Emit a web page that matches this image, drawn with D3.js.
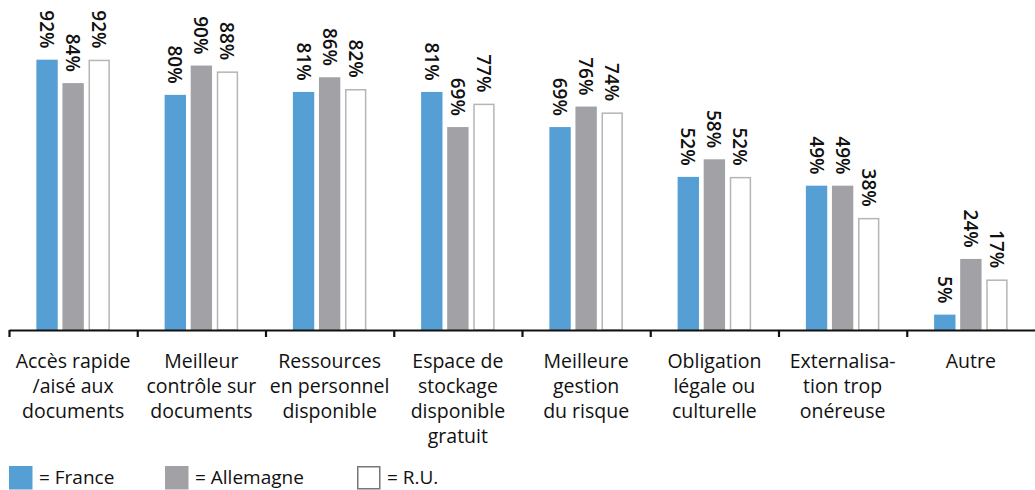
<!DOCTYPE html>
<html>
<head>
<meta charset="utf-8">
<script src="https://cdn.jsdelivr.net/npm/d3@7"></script>
<style>
  body { margin: 0; background: #fff; }
  text { font-family: "Open Sans", "Noto Sans", sans-serif; fill: #111; }
</style>
</head>
<body>
<svg id="chart" width="1035" height="490"></svg>
<script>
// categories, one array of lines per label
var categories = [
  ['Accès rapide', '/aisé aux', 'documents'],
  ['Meilleur', 'contrôle sur', 'documents'],
  ['Ressources', 'en personnel', 'disponible'],
  ['Espace de', 'stockage', 'disponible', 'gratuit'],
  ['Meilleure', 'gestion', 'du risque'],
  ['Obligation', 'légale ou', 'culturelle'],
  ['Externalisa-', 'tion trop', 'onéreuse'],
  ['Autre']
];
var seriesNames = ['France', 'Allemagne', 'R.U.'];
var france    = [92, 80, 81, 81, 69, 52, 49, 5];
var allemagne = [84, 90, 86, 69, 76, 58, 49, 24];
var ru        = [92, 88, 82, 77, 74, 52, 38, 17];

var fills   = ['#559fd5', '#a1a1a6', '#ffffff'];
var strokes = ['#559fd5', '#a1a1a6', '#b5b5b5'];

var svg = d3.select('#chart');
var baseY = 330;

var x = d3.scaleBand().domain(d3.range(categories.length)).range([9, 1035]);
var xs = d3.scaleBand().domain([0, 1, 2]).range([0, 73]).paddingInner(0.2);
var y = d3.scaleLinear().domain([0, 100]).range([baseY, 37]);

var allSeries = [france, allemagne, ru];

var groups = svg.selectAll('g.grp')
  .data(categories.map(function (c, i) { return i; }))
  .enter().append('g')
  .attr('class', 'grp')
  .attr('transform', function (i) {
    return 'translate(' + (x(i) + x.bandwidth() / 2 - 36.5) + ',0)';
  });

groups.selectAll('rect')
  .data(function (i) { return allSeries.map(function (s, k) { return {k: k, v: s[i]}; }); })
  .enter().append('rect')
  .attr('x', function (d) { return xs(d.k) + 0.5; })
  .attr('width', xs.bandwidth() - 1)
  .attr('y', function (d) { return y(d.v); })
  .attr('height', function (d) { return baseY - y(d.v); })
  .attr('fill', function (d) { return fills[d.k]; })
  .attr('stroke', function (d) { return strokes[d.k]; })
  .attr('stroke-width', 1.5);

// rotated value labels
groups.selectAll('text.val')
  .data(function (i) { return allSeries.map(function (s, k) { return {k: k, v: s[i]}; }); })
  .enter().append('text')
  .attr('class', 'val')
  .attr('transform', function (d) {
    return 'translate(' + (xs(d.k) + xs.bandwidth() / 2) + ',' + (y(d.v) - 12) + ') rotate(90)';
  })
  .attr('text-anchor', 'end')
  .attr('dominant-baseline', 'central')
  .style('font-size', '19px')
  .style('font-weight', 600)
  .text(function (d) { return d.v + '%'; });

// axis
var axis = d3.axisBottom(x).tickSize(0).tickFormat('');
var gx = svg.append('g').attr('transform', 'translate(0,' + baseY + ')').call(axis);
gx.select('.domain').attr('stroke', '#111').attr('stroke-width', 2.2);
gx.selectAll('.tickmark')
  .data(d3.range(categories.length))
  .enter().append('line')
  .attr('x1', function (i) { return x(i) + 0.5; })
  .attr('x2', function (i) { return x(i) + 0.5; })
  .attr('y1', 0).attr('y2', 7)
  .attr('stroke', '#111').attr('stroke-width', 2.2);

// category labels
var lab = svg.selectAll('text.cat')
  .data(categories)
  .enter().append('text')
  .attr('class', 'cat')
  .attr('text-anchor', 'middle')
  .style('font-size', '19.5px');
lab.selectAll('tspan')
  .data(function (lines, i) { return lines.map(function (l) { return {l: l, i: i}; }); })
  .enter().append('tspan')
  .attr('x', function (d) { return x(d.i) + x.bandwidth() / 2; })
  .attr('y', function (d, j) { return 368 + j * 25; })
  .text(function (d) { return d.l; });

// legend
var legendX = [9, 165, 357];
var leg = svg.selectAll('g.leg')
  .data(seriesNames)
  .enter().append('g')
  .attr('class', 'leg')
  .attr('transform', function (d, k) { return 'translate(' + legendX[k] + ',466)'; });
leg.append('rect')
  .attr('x', 0.75).attr('y', 0.75)
  .attr('width', 22).attr('height', 22)
  .attr('fill', function (d, k) { return fills[k]; })
  .attr('stroke', function (d, k) { return k === 2 ? '#777' : strokes[k]; })
  .attr('stroke-width', 1.5);
leg.append('text')
  .attr('x', 30).attr('y', 18)
  .style('font-size', '19px')
  .text(function (d) { return '= ' + d; });
</script>
</body>
</html>
